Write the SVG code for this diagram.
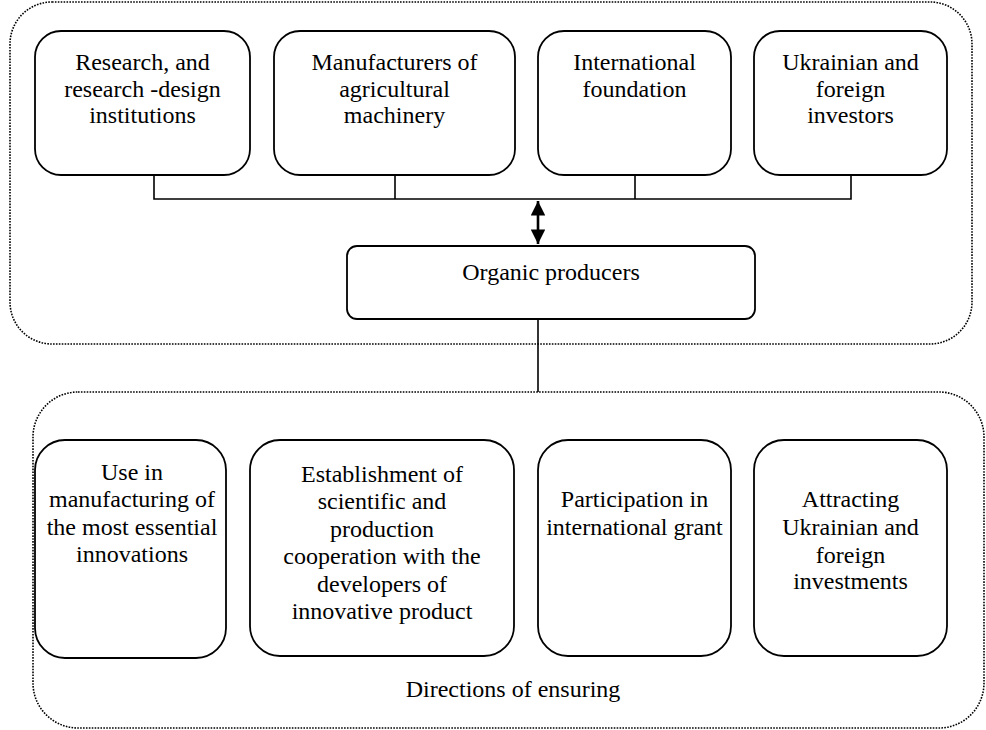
<svg xmlns="http://www.w3.org/2000/svg" width="986" height="730" viewBox="0 0 986 730">
<defs>
<style>
.box{fill:#fff;stroke:#000;stroke-width:1.8}
.cont{fill:none;stroke:#000;stroke-width:1.6;stroke-dasharray:1.6 1.3}
.t{font-family:"Liberation Serif","Times New Roman",serif;font-size:24px;fill:#000;text-anchor:middle}
.ln{fill:none;stroke:#000;stroke-width:1.6}
</style>
<marker id="ah" viewBox="0 0 10 10" refX="10" refY="5" markerWidth="6" markerHeight="5.6" orient="auto-start-reverse" markerUnits="strokeWidth">
<path d="M0,0 L10,5 L0,10 z" fill="#000"/>
</marker>
</defs>
<rect width="986" height="730" fill="#fff"/>
<g id="container-top"><rect class="cont" x="10" y="2" width="962" height="342" rx="42" ry="42"/></g>
<g id="container-bottom"><rect class="cont" x="33" y="392" width="951" height="336" rx="45" ry="45"/>
<text class="t" x="513" y="697">Directions of ensuring</text></g>
<g id="connectors">
<path class="ln" d="M154,175 V199 H851 V175 M395,175 V199 M635,175 V199"/>
<line x1="538" y1="201" x2="538" y2="244" stroke="#000" stroke-width="2.6" marker-start="url(#ah)" marker-end="url(#ah)"/>
<line class="ln" x1="538" y1="319" x2="538" y2="392"/>
</g>
<g id="n1"><rect class="box" x="35" y="31" width="215" height="144" rx="26"/>
<text class="t" x="142.5" y="70">Research, and</text><text class="t" x="142.5" y="97">research -design</text><text class="t" x="142.5" y="123">institutions</text></g>
<g id="n2"><rect class="box" x="274" y="31" width="241" height="144" rx="26"/>
<text class="t" x="394.5" y="70">Manufacturers of</text><text class="t" x="394.5" y="97">agricultural</text><text class="t" x="394.5" y="123">machinery</text></g>
<g id="n3"><rect class="box" x="538" y="31" width="193" height="144" rx="26"/>
<text class="t" x="634.5" y="70">International</text><text class="t" x="634.5" y="97">foundation</text></g>
<g id="n4"><rect class="box" x="754" y="31" width="193" height="144" rx="26"/>
<text class="t" x="850.5" y="70">Ukrainian and</text><text class="t" x="850.5" y="97">foreign</text><text class="t" x="850.5" y="123">investors</text></g>
<g id="n5"><rect class="box" x="347" y="246" width="408" height="73" rx="10"/>
<text class="t" x="551" y="280">Organic producers</text></g>
<g id="n6"><rect class="box" x="35" y="440" width="191" height="218" rx="30"/>
<text class="t" x="132" y="480">Use in</text><text class="t" x="132" y="507">manufacturing of</text><text class="t" x="132" y="535">the most essential</text><text class="t" x="132" y="562">innovations</text></g>
<g id="n7"><rect class="box" x="250" y="440" width="264" height="216" rx="30"/>
<text class="t" x="382" y="482">Establishment of</text><text class="t" x="382" y="509">scientific and</text><text class="t" x="382" y="537">production</text><text class="t" x="382" y="564">cooperation with the</text><text class="t" x="382" y="592">developers of</text><text class="t" x="382" y="619">innovative product</text></g>
<g id="n8"><rect class="box" x="538" y="440" width="193" height="216" rx="30"/>
<text class="t" x="634.5" y="507">Participation in</text><text class="t" x="634.5" y="535">international grant</text></g>
<g id="n9"><rect class="box" x="754" y="440" width="193" height="216" rx="30"/>
<text class="t" x="850.5" y="507">Attracting</text><text class="t" x="850.5" y="535">Ukrainian and</text><text class="t" x="850.5" y="563">foreign</text><text class="t" x="850.5" y="589">investments</text></g>
</svg>
